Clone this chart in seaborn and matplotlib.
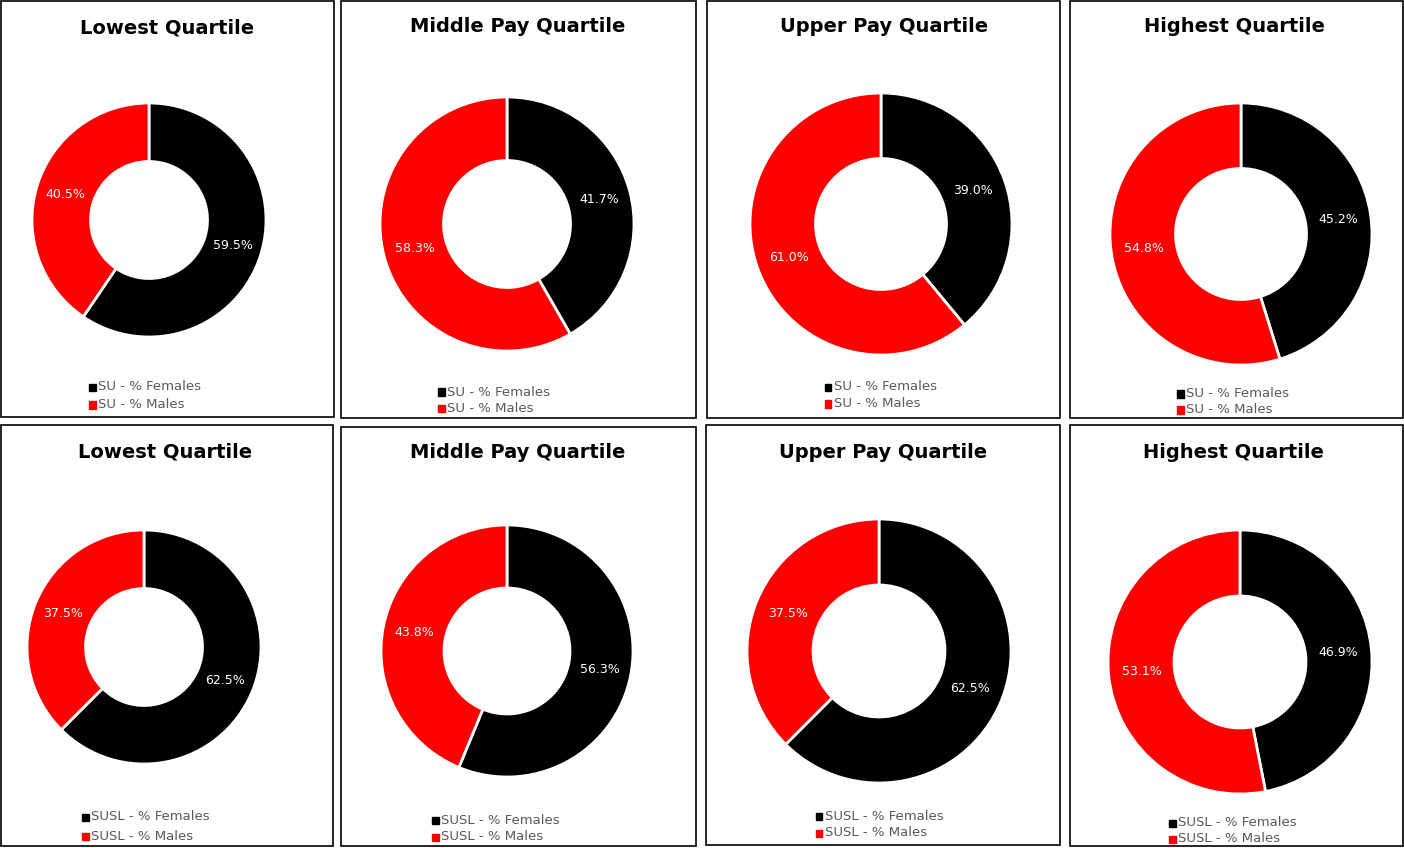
import matplotlib
matplotlib.use("Agg")
import numpy as np
import matplotlib.pyplot as plt
import seaborn as sns
from matplotlib.patches import Rectangle

# ================= data =================
TITLES = ['Lowest Quartile', 'Middle Pay Quartile', 'Upper Pay Quartile', 'Highest Quartile']
GROUPS = ['SU', 'SUSL']
FEMALES = [
    [59.5, 41.7, 39.0, 45.2],   # SU
    [62.5, 56.3, 62.5, 46.9],   # SUSL
]
MALES = [
    [40.5, 58.3, 61.0, 54.8],
    [37.5, 43.8, 37.5, 53.1],
]
COLORS = ['#000000', '#ff0000']
# ========================================

W, H = 1404, 848

# panel boxes (x0, y0, x1, y1) in pixels, row by row
PANELS = [
    [(1, 1, 334, 417), (341, 1, 696, 418), (707, 1, 1060, 418), (1070, 1, 1403, 418)],
    [(1, 425, 333, 846), (341, 427, 696, 846), (706, 425, 1060, 845), (1070, 425, 1403, 846)],
]
# donut centre x, centre y, outer radius
DONUTS = [
    [(149, 220, 117), (507, 224, 127), (881, 224, 131), (1241, 234, 131)],
    [(144, 647, 117), (507, 651, 126), (879, 651, 132), (1240, 662, 132)],
]
TITLE_POS = [
    [(167, 28), (518, 27), (884, 27), (1234, 27)],
    [(165, 452), (518, 452), (883, 452), (1233, 452)],
]
# legend square x, first row y, second row y
LEGEND_POS = [
    [(92, 387, 405), (441, 392, 408), (828, 387, 404), (1180, 394, 410)],
    [(85, 817, 836), (435, 820, 837), (819, 816, 833), (1172, 823, 839)],
]

sns.set_theme(style='white')
plt.rcParams['font.family'] = ['DejaVu Sans']

fig = plt.figure(figsize=(W / 100, H / 100), dpi=100)
fig.patch.set_facecolor('white')


def fx(x):
    return x / W


def fy(y):
    return 1 - y / H


for r, group in enumerate(GROUPS):
    for c, title in enumerate(TITLES):
        x0, y0, x1, y1 = PANELS[r][c]
        fig.add_artist(Rectangle((fx(x0), fy(y1)), (x1 - x0) / W, (y1 - y0) / H,
                                 transform=fig.transFigure, fill=False,
                                 edgecolor='black', linewidth=1.2))

        cx, cy, rad = DONUTS[r][c]
        ax = fig.add_axes([fx(cx - rad), fy(cy + rad), 2 * rad / W, 2 * rad / H])
        vals = [FEMALES[r][c], MALES[r][c]]
        ax.pie(vals, colors=COLORS, startangle=90, counterclock=False, radius=1,
               wedgeprops=dict(width=0.5, edgecolor='white', linewidth=2))
        ax.set_xlim(-1.0, 1.0)
        ax.set_ylim(-1.0, 1.0)
        ax.axis('off')

        # percentage labels in the middle of the ring
        start = 90
        for v in vals:
            mid = np.deg2rad(start - v / 100 * 360 / 2)
            ax.text(0.75 * np.cos(mid), 0.75 * np.sin(mid), f'{v:.1f}%',
                    ha='center', va='center', color='white', fontsize=9)
            start -= v / 100 * 360

        tx, ty = TITLE_POS[r][c]
        fig.text(fx(tx), fy(ty), title, ha='center', va='center',
                 fontsize=14, fontweight='bold', color='black')

        lx, ly1, ly2 = LEGEND_POS[r][c]
        for ly, lab, col in [(ly1, f'{group} - % Females', COLORS[0]),
                             (ly2, f'{group} - % Males', COLORS[1])]:
            fig.add_artist(Rectangle((fx(lx - 3.5), fy(ly + 3.5)), 7 / W, 7 / H,
                                     transform=fig.transFigure, color=col))
            fig.text(fx(lx + 6), fy(ly), lab, ha='left', va='center',
                     fontsize=9.5, color='#595959')

fig.savefig('out.png', dpi=100)
plt.close(fig)
